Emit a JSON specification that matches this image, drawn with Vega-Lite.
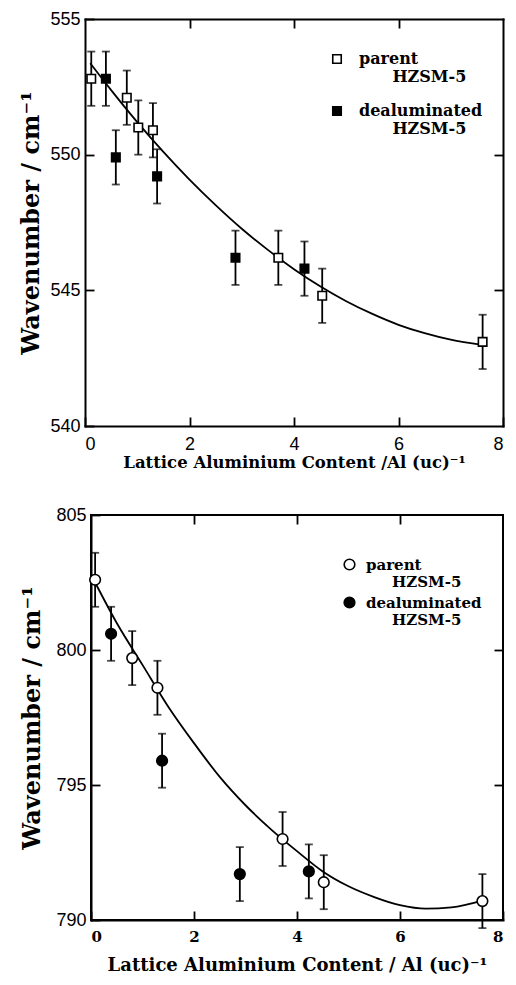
{
  "$schema": "https://vega.github.io/schema/vega-lite/v6.json",
  "background": "white",
  "padding": {"left": 19, "top": 10, "right": 0, "bottom": 5},
  "spacing": 34,
  "datasets": {
    "curveTop": [
      {"x": 0.1, "y": 553.37}, {"x": 0.5, "y": 552.38}, {"x": 1.0, "y": 551.2}, {"x": 1.5, "y": 550.1},
      {"x": 2.0, "y": 549.08}, {"x": 2.5, "y": 548.14}, {"x": 3.0, "y": 547.27}, {"x": 3.5, "y": 546.49},
      {"x": 4.0, "y": 545.78}, {"x": 4.5, "y": 545.15}, {"x": 5.0, "y": 544.6}, {"x": 5.5, "y": 544.13},
      {"x": 6.0, "y": 543.73}, {"x": 6.5, "y": 543.42}, {"x": 7.0, "y": 543.18}, {"x": 7.6, "y": 542.99}
    ],
    "ptsTop": [
      {"series": "parent", "x": 0.12, "y": 552.8, "lo": 551.8, "hi": 553.8},
      {"series": "parent", "x": 0.8, "y": 552.1, "lo": 551.1, "hi": 553.1},
      {"series": "parent", "x": 1.02, "y": 551.0, "lo": 550.0, "hi": 552.0},
      {"series": "parent", "x": 1.3, "y": 550.9, "lo": 549.9, "hi": 551.9},
      {"series": "parent", "x": 3.7, "y": 546.2, "lo": 545.2, "hi": 547.2},
      {"series": "parent", "x": 4.54, "y": 544.8, "lo": 543.8, "hi": 545.8},
      {"series": "parent", "x": 7.61, "y": 543.1, "lo": 542.1, "hi": 544.1},
      {"series": "dealuminated", "x": 0.4, "y": 552.8, "lo": 551.8, "hi": 553.8},
      {"series": "dealuminated", "x": 0.59, "y": 549.9, "lo": 548.9, "hi": 550.9},
      {"series": "dealuminated", "x": 1.38, "y": 549.2, "lo": 548.2, "hi": 550.2},
      {"series": "dealuminated", "x": 2.88, "y": 546.2, "lo": 545.2, "hi": 547.2},
      {"series": "dealuminated", "x": 4.2, "y": 545.8, "lo": 544.8, "hi": 546.8}
    ],
    "curveBot": [
      {"x": 0.08, "y": 802.5}, {"x": 0.5, "y": 801.0}, {"x": 1.0, "y": 799.45}, {"x": 1.5, "y": 797.9},
      {"x": 2.0, "y": 796.55}, {"x": 2.5, "y": 795.3}, {"x": 3.0, "y": 794.25}, {"x": 3.5, "y": 793.35},
      {"x": 4.0, "y": 792.55}, {"x": 4.5, "y": 791.8}, {"x": 5.0, "y": 791.25}, {"x": 5.5, "y": 790.85},
      {"x": 6.0, "y": 790.55}, {"x": 6.5, "y": 790.42}, {"x": 7.0, "y": 790.47}, {"x": 7.6, "y": 790.72}
    ],
    "ptsBot": [
      {"series": "parent", "x": 0.08, "y": 802.6, "lo": 801.6, "hi": 803.6},
      {"series": "parent", "x": 0.8, "y": 799.7, "lo": 798.7, "hi": 800.7},
      {"series": "parent", "x": 1.29, "y": 798.6, "lo": 797.6, "hi": 799.6},
      {"series": "parent", "x": 3.72, "y": 793.0, "lo": 792.0, "hi": 794.0},
      {"series": "parent", "x": 4.52, "y": 791.4, "lo": 790.4, "hi": 792.4},
      {"series": "parent", "x": 7.6, "y": 790.7, "lo": 789.7, "hi": 791.7},
      {"series": "dealuminated", "x": 0.39, "y": 800.6, "lo": 799.6, "hi": 801.6},
      {"series": "dealuminated", "x": 1.38, "y": 795.9, "lo": 794.9, "hi": 796.9},
      {"series": "dealuminated", "x": 2.89, "y": 791.7, "lo": 790.7, "hi": 792.7},
      {"series": "dealuminated", "x": 4.23, "y": 791.8, "lo": 790.8, "hi": 792.8}
    ]
  },
  "config": {
    "view": {"stroke": "black", "strokeWidth": 2},
    "axis": {
      "domainColor": "black", "domainWidth": 2, "domainCap": "square", "tickColor": "black", "tickWidth": 1.8,
      "tickSize": -9, "grid": false, "labelColor": "black", "titleColor": "black",
      "labelFont": "Liberation Sans", "labelFontSize": 18, "labelPadding": 15,
      "titleFont": "DejaVu Serif", "titleFontWeight": "bold", "titleFontSize": 24
    },
    "legend": {"padding": 0}
  },
  "resolve": {"scale": {"fill": "independent"}, "legend": {"fill": "independent"}},
  "vconcat": [
    {
      "width": 412,
      "height": 407,
      "view": {"stroke": null},
      "layer": [
        {
          "data": {"name": "curveTop"},
          "mark": {"type": "line", "color": "black", "strokeWidth": 1.8, "interpolate": "monotone"},
          "encoding": {
            "x": {"field": "x", "type": "quantitative", "scale": {"domain": [0, 8], "range": [-6, 412], "nice": false, "zero": false},
                  "axis": {"orient": "top", "labels": false, "domain": true, "title": null, "values": [2, 4, 6]}},
            "y": {"field": "y", "type": "quantitative", "scale": {"domain": [540, 555], "nice": false, "zero": false},
                  "axis": {"orient": "right", "labels": false, "domain": true, "title": null, "values": [545, 550]}}
          }
        },
        {
          "data": {"name": "ptsTop"},
          "mark": {"type": "errorbar", "ticks": {"size": 8, "thickness": 1.8, "color": "black"}, "rule": {"strokeWidth": 1.8, "color": "black"}},
          "encoding": {
            "x": {"field": "x", "type": "quantitative", "axis": null},
            "y": {"field": "lo", "type": "quantitative", "axis": null},
            "y2": {"field": "hi"}
          }
        },
        {
          "data": {"name": "ptsTop"},
          "mark": {"type": "point", "shape": "square", "size": 72, "filled": true, "stroke": "black", "strokeWidth": 1.6, "opacity": 1},
          "encoding": {
            "x": {"field": "x", "type": "quantitative",
                  "axis": {"orient": "bottom", "title": "Lattice Aluminium Content /Al (uc)⁻¹", "titleFontSize": 16.5, "titlePadding": 1, "labelPadding": 18, "values": [0, 2, 4, 6, 8]}},
            "y": {"field": "y", "type": "quantitative",
                  "axis": {"orient": "left", "offset": 6, "title": "Wavenumber / cm⁻¹", "titlePadding": 6, "labelPadding": 14, "values": [540, 545, 550, 555]}},
            "fill": {"field": "series", "type": "nominal",
                     "scale": {"domain": ["parent", "dealuminated"], "range": ["white", "black"]},
                     "legend": {"orient": "none", "legendX": 238, "legendY": 32, "title": null,
                                "symbolType": "square", "symbolSize": 72, "symbolStrokeColor": "black", "symbolStrokeWidth": 1.6,
                                "labelFont": "DejaVu Serif", "labelFontWeight": "bold", "labelFontSize": 16, "labelColor": "black",
                                "labelOffset": 14, "rowPadding": 18, "labelLimit": 0,
                                "labelExpr": "[datum.label, '\u200b\u00a0\u00a0\u00a0\u00a0\u00a0\u00a0HZSM-5']"}}
          }
        }
      ],
      "resolve": {"axis": {"x": "independent", "y": "independent"}}
    },
    {
      "width": 412,
      "height": 405,
      "layer": [
        {
          "data": {"name": "curveBot"},
          "mark": {"type": "line", "color": "black", "strokeWidth": 1.8, "interpolate": "monotone"},
          "encoding": {
            "x": {"field": "x", "type": "quantitative", "scale": {"domain": [0, 8], "nice": false, "zero": false},
                  "axis": {"orient": "top", "labels": false, "domain": false, "title": null, "values": [2, 4, 6]}},
            "y": {"field": "y", "type": "quantitative", "scale": {"domain": [790, 805], "nice": false, "zero": false},
                  "axis": {"orient": "right", "labels": false, "domain": false, "title": null, "values": [795, 800]}}
          }
        },
        {
          "data": {"name": "ptsBot"},
          "mark": {"type": "errorbar", "ticks": {"size": 8, "thickness": 1.8, "color": "black"}, "rule": {"strokeWidth": 1.8, "color": "black"}},
          "encoding": {
            "x": {"field": "x", "type": "quantitative", "axis": null},
            "y": {"field": "lo", "type": "quantitative", "axis": null},
            "y2": {"field": "hi"}
          }
        },
        {
          "data": {"name": "ptsBot"},
          "mark": {"type": "point", "shape": "circle", "size": 113, "filled": true, "stroke": "black", "strokeWidth": 1.6, "opacity": 1},
          "encoding": {
            "x": {"field": "x", "type": "quantitative",
                  "axis": {"orient": "bottom", "title": "Lattice Aluminium Content / Al (uc)⁻¹", "titleFontSize": 18, "titlePadding": 12,
                           "labelFont": "DejaVu Serif", "labelFontWeight": "bold", "labelFontSize": 15, "labelPadding": 18, "values": [0, 2, 4, 6, 8]}},
            "y": {"field": "y", "type": "quantitative",
                  "axis": {"orient": "left", "title": "Wavenumber / cm⁻¹", "titlePadding": 11, "labelPadding": 14, "values": [790, 795, 800, 805]}},
            "fill": {"field": "series", "type": "nominal",
                     "scale": {"domain": ["parent", "dealuminated"], "range": ["white", "black"]},
                     "legend": {"orient": "none", "legendX": 251, "legendY": 42, "title": null,
                                "symbolType": "circle", "symbolSize": 113, "symbolStrokeColor": "black", "symbolStrokeWidth": 1.6,
                                "labelFont": "DejaVu Serif", "labelFontWeight": "bold", "labelFontSize": 15, "labelColor": "black",
                                "labelOffset": 9, "rowPadding": 3, "labelLimit": 0,
                                "labelExpr": "[datum.label, '\u200b\u00a0\u00a0\u00a0\u00a0\u00a0HZSM-5']"}}
          }
        }
      ],
      "resolve": {"axis": {"x": "independent", "y": "independent"}}
    }
  ]
}
